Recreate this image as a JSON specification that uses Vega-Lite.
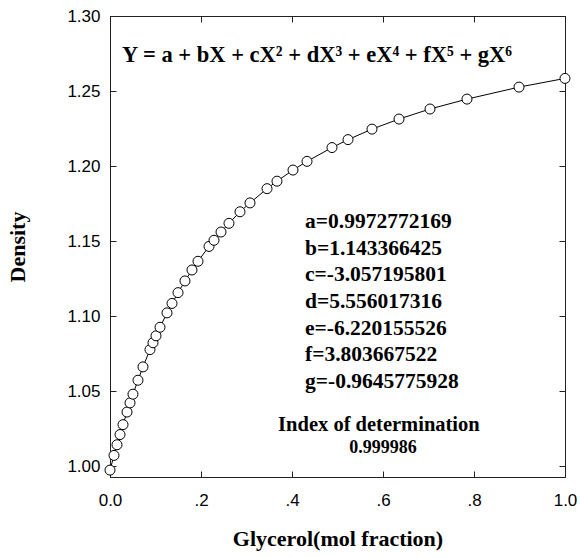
{
  "$schema": "https://vega.github.io/schema/vega-lite/v6.json",
  "width": 455,
  "height": 461,
  "autosize": "none",
  "padding": {"left": 110, "top": 16, "right": 15, "bottom": 81},
  "background": "white",
  "config": {
    "view": {"stroke": "#222", "strokeWidth": 1},
    "axis": {
      "domainColor": "#222",
      "tickColor": "#222",
      "tickSize": -6,
      "grid": false,
      "labelFlush": false,
      "labelFont": "Liberation Sans",
      "labelFontSize": 17,
      "labelColor": "black",
      "titleFont": "Liberation Serif",
      "titleFontWeight": "bold",
      "titleFontSize": 22,
      "titleColor": "black"
    }
  },
  "datasets": {
    "points": [
      {"x": 0.0, "density": 0.9973},
      {"x": 0.0088, "density": 1.0071},
      {"x": 0.0154, "density": 1.0142},
      {"x": 0.0220, "density": 1.0210},
      {"x": 0.0286, "density": 1.0276},
      {"x": 0.0374, "density": 1.0360},
      {"x": 0.0440, "density": 1.0421},
      {"x": 0.0505, "density": 1.0479},
      {"x": 0.0615, "density": 1.0572},
      {"x": 0.0725, "density": 1.0661},
      {"x": 0.0879, "density": 1.0776},
      {"x": 0.0945, "density": 1.0822},
      {"x": 0.1011, "density": 1.0868},
      {"x": 0.1099, "density": 1.0925},
      {"x": 0.1253, "density": 1.1021},
      {"x": 0.1363, "density": 1.1084},
      {"x": 0.1495, "density": 1.1156},
      {"x": 0.1648, "density": 1.1234},
      {"x": 0.1802, "density": 1.1307},
      {"x": 0.1934, "density": 1.1365},
      {"x": 0.2176, "density": 1.1464},
      {"x": 0.2286, "density": 1.1505},
      {"x": 0.2440, "density": 1.1560},
      {"x": 0.2615, "density": 1.1618},
      {"x": 0.2857, "density": 1.1695},
      {"x": 0.3077, "density": 1.1754},
      {"x": 0.3451, "density": 1.1849},
      {"x": 0.3670, "density": 1.1899},
      {"x": 0.4022, "density": 1.1973},
      {"x": 0.4330, "density": 1.2031},
      {"x": 0.4879, "density": 1.2123},
      {"x": 0.5231, "density": 1.2176},
      {"x": 0.5758, "density": 1.2246},
      {"x": 0.6352, "density": 1.2313},
      {"x": 0.7033, "density": 1.2380},
      {"x": 0.7846, "density": 1.2446},
      {"x": 0.8989, "density": 1.2526},
      {"x": 1.0, "density": 1.2584}
    ],
    "equation": [{"label": "Y = a + bX + cX² + dX³ + eX⁴ + fX⁵ + gX⁶"}],
    "coefficients": [{"label": "a=0.9972772169"}],
    "index": [{"label": "Index of determination"}],
    "r2": [{"label": "0.999986"}]
  },
  "resolve": {"axis": {"x": "independent", "y": "independent"}},
  "layer": [
    {
      "data": {"name": "points"},
      "mark": {"type": "line", "color": "black", "strokeWidth": 1},
      "encoding": {
        "x": {
          "field": "x", "type": "quantitative",
          "scale": {"domain": [0, 1], "nice": false, "zero": false},
          "axis": {
            "orient": "bottom",
            "values": [0, 0.2, 0.4, 0.6, 0.8, 1.0],
            "labelExpr": "datum.value == 0 ? '0.0' : datum.value == 1 ? '1.0' : replace(format(datum.value, '.1f'), '0.', '.')",
            "labelPadding": 21,
            "title": "Glycerol(mol fraction)",
            "titlePadding": 20
          }
        },
        "y": {
          "field": "density", "type": "quantitative",
          "scale": {"domain": [0.9927, 1.3], "nice": false, "zero": false},
          "axis": {
            "orient": "left",
            "values": [1.0, 1.05, 1.1, 1.15, 1.2, 1.25, 1.3],
            "format": ".2f",
            "labelPadding": 16,
            "title": "Density",
            "titlePadding": 37
          }
        }
      }
    },
    {
      "data": {"name": "points"},
      "mark": {"type": "point", "shape": "circle", "size": 100, "fill": "white", "stroke": "black", "strokeWidth": 1, "filled": true, "opacity": 1},
      "encoding": {
        "x": {
          "field": "x", "type": "quantitative",
          "scale": {"domain": [0, 1], "nice": false, "zero": false},
          "axis": {"orient": "top", "values": [0, 0.2, 0.4, 0.6, 0.8, 1.0], "labels": false, "title": null}
        },
        "y": {
          "field": "density", "type": "quantitative",
          "scale": {"domain": [0.9927, 1.3], "nice": false, "zero": false},
          "axis": {"orient": "right", "values": [1.0, 1.05, 1.1, 1.15, 1.2, 1.25, 1.3], "labels": false, "title": null}
        }
      }
    },
    {
      "data": {"name": "equation"},
      "mark": {"type": "text", "font": "Liberation Serif", "fontWeight": "bold", "fontSize": 22.5, "align": "center", "baseline": "middle", "color": "black"},
      "encoding": {
        "text": {"field": "label"},
        "x": {"datum": 0.455, "type": "quantitative", "scale": {"domain": [0, 1], "nice": false, "zero": false}, "axis": null},
        "y": {"datum": 1.274, "type": "quantitative", "scale": {"domain": [0.9927, 1.3], "nice": false, "zero": false}, "axis": null}
      }
    },
    {
      "data": {"name": "coefficients"},
      "mark": {"type": "text", "text": ["a=0.9972772169", "b=1.143366425", "c=-3.057195801", "d=5.556017316", "e=-6.220155526", "f=3.803667522", "g=-0.9645775928"], "lineHeight": 26.7, "font": "Liberation Serif", "fontWeight": "bold", "fontSize": 21.5, "align": "left", "baseline": "middle", "color": "black"},
      "encoding": {
        "x": {"datum": 0.4286, "type": "quantitative", "scale": {"domain": [0, 1], "nice": false, "zero": false}, "axis": null},
        "y": {"datum": 1.1627, "type": "quantitative", "scale": {"domain": [0.9927, 1.3], "nice": false, "zero": false}, "axis": null}
      }
    },
    {
      "data": {"name": "index"},
      "mark": {"type": "text", "font": "Liberation Serif", "fontWeight": "bold", "fontSize": 20.5, "align": "center", "baseline": "middle", "color": "black"},
      "encoding": {
        "text": {"field": "label"},
        "x": {"datum": 0.591, "type": "quantitative", "scale": {"domain": [0, 1], "nice": false, "zero": false}, "axis": null},
        "y": {"datum": 1.0273, "type": "quantitative", "scale": {"domain": [0.9927, 1.3], "nice": false, "zero": false}, "axis": null}
      }
    },
    {
      "data": {"name": "r2"},
      "mark": {"type": "text", "font": "Liberation Serif", "fontWeight": "bold", "fontSize": 18, "align": "center", "baseline": "middle", "color": "black"},
      "encoding": {
        "text": {"field": "label"},
        "x": {"datum": 0.6, "type": "quantitative", "scale": {"domain": [0, 1], "nice": false, "zero": false}, "axis": null},
        "y": {"datum": 1.012, "type": "quantitative", "scale": {"domain": [0.9927, 1.3], "nice": false, "zero": false}, "axis": null}
      }
    }
  ]
}
